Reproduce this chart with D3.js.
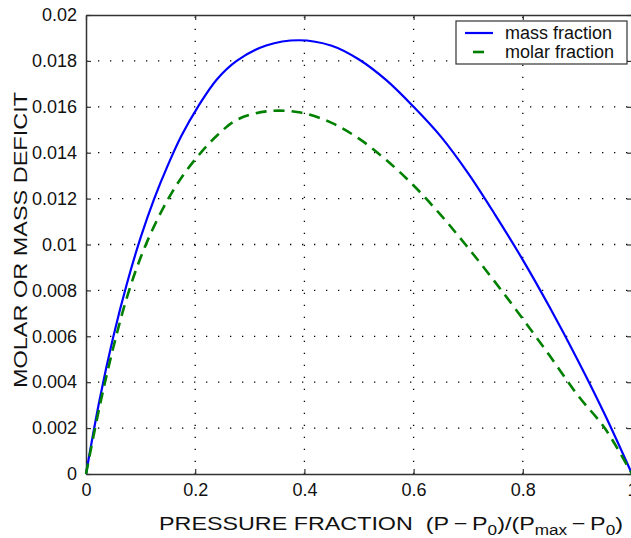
<!DOCTYPE html>
<html lang="en">
<head>
    <meta charset="UTF-8">
    <title>Molar or mass deficit</title>
    <script src="https://d3js.org/d3.v7.min.js"></script>
    <style>
        body {
            margin: 0;
            padding: 0;
            background-color: #ffffff;
        }
        svg text {
            font-family: 'Liberation Sans', Arial, sans-serif;
            fill: #111;
        }
        .grid line {
            stroke: #000;
            stroke-width: 1.3px;
            stroke-dasharray: 1.3, 10.7;
        }
    </style>
</head>
<body>
    <div id="chart"></div>
    <script>
        // values (pressure fraction -> deficit)
        const fractionX = [0, 0.025, 0.05, 0.075, 0.1, 0.125, 0.15, 0.175, 0.205, 0.24, 0.276, 0.33, 0.39, 0.45, 0.5, 0.55, 0.6, 0.65, 0.7, 0.75, 0.8, 0.85, 0.9, 0.95, 1];
        const massY = [0, 0.00325, 0.00598, 0.0083, 0.0103, 0.0120, 0.01346, 0.01475, 0.0160, 0.0172, 0.0180, 0.01867, 0.0189, 0.01866, 0.01806, 0.01716, 0.0160, 0.0147, 0.0131, 0.01127, 0.00933, 0.00723, 0.00499, 0.0026, 0];
        const molarY = [0, 0.00295, 0.00551, 0.0077, 0.00943, 0.01081, 0.01196, 0.01292, 0.01385, 0.01475, 0.01543, 0.0158, 0.01576, 0.0153, 0.01461, 0.01368, 0.01257, 0.01128, 0.00985, 0.00834, 0.00676, 0.00513, 0.00345, 0.0020, 0];
        const xTicks = [0, 0.2, 0.4, 0.6, 0.8, 1];
        const xTickLabels = ["0", "0.2", "0.4", "0.6", "0.8", "1"];
        const yTicks = [0, 0.002, 0.004, 0.006, 0.008, 0.01, 0.012, 0.014, 0.016, 0.018, 0.02];
        const yTickLabels = ["0", "0.002", "0.004", "0.006", "0.008", "0.01", "0.012", "0.014", "0.016", "0.018", "0.02"];
        const seriesNames = ["mass fraction", "molar fraction"];

        const W = 631, H = 538;
        const margin = { top: 15, right: -1, bottom: 64, left: 86 };
        const width = W - margin.left - margin.right;
        const height = H - margin.top - margin.bottom;

        const svg = d3.select("#chart").append("svg")
            .attr("width", W)
            .attr("height", H);
        const g = svg.append("g")
            .attr("transform", `translate(${margin.left},${margin.top})`);

        const x = d3.scaleLinear().domain([0, 1]).range([0, width]);
        const y = d3.scaleLinear().domain([0, 0.02]).range([height, 0]);

        // dotted grid
        g.append("g").attr("class", "grid")
            .selectAll("line").data(yTicks.slice(1, -1)).join("line")
            .attr("x1", 0).attr("x2", width)
            .attr("y1", d => y(d)).attr("y2", d => y(d));
        g.append("g").attr("class", "grid")
            .selectAll("line").data(xTicks.slice(1, -1)).join("line")
            .attr("y1", height).attr("y2", 0)
            .attr("x1", d => x(d)).attr("x2", d => x(d));

        // axes, matlab style ticks pointing inward
        g.append("g")
            .attr("transform", `translate(0,${height})`)
            .call(d3.axisBottom(x).tickValues(xTicks).tickSizeInner(-5).tickSizeOuter(0).tickPadding(9)
                .tickFormat((d, i) => xTickLabels[i]));
        g.append("g")
            .call(d3.axisLeft(y).tickValues(yTicks).tickSizeInner(-5).tickSizeOuter(0).tickPadding(9)
                .tickFormat((d, i) => yTickLabels[i]));
        g.append("g")
            .call(d3.axisTop(x).tickValues(xTicks).tickSizeInner(-5).tickSizeOuter(0).tickFormat(""));
        g.append("g")
            .attr("transform", `translate(${width},0)`)
            .call(d3.axisRight(y).tickValues(yTicks).tickSizeInner(-5).tickSizeOuter(0).tickFormat(""));

        g.selectAll(".domain").attr("stroke", "#333").attr("stroke-width", 1.5);
        g.selectAll(".tick line").attr("stroke", "#333").attr("stroke-width", 1.2);
        g.selectAll(".tick text").style("font-size", "18px").attr("fill", "#111");

        // curves
        const line = d3.line().x(d => x(d[0])).y(d => y(d[1])).curve(d3.curveCatmullRom.alpha(0.5));
        g.append("path")
            .datum(fractionX.map((v, i) => [v, massY[i]]))
            .attr("fill", "none")
            .attr("stroke", "#0000ff")
            .attr("stroke-width", 2.2)
            .attr("d", line);
        g.append("path")
            .datum(fractionX.map((v, i) => [v, molarY[i]]))
            .attr("fill", "none")
            .attr("stroke", "#008000")
            .attr("stroke-width", 2.6)
            .attr("stroke-dasharray", "11,7")
            .attr("d", line);

        // legend
        const lg = svg.append("g").attr("transform", "translate(456,21)");
        lg.append("rect")
            .attr("width", 171).attr("height", 43)
            .attr("fill", "#fff").attr("stroke", "#333").attr("stroke-width", 1.2);
        lg.append("line").attr("x1", 9).attr("x2", 37).attr("y1", 12).attr("y2", 12)
            .attr("stroke", "#0000ff").attr("stroke-width", 2.2);
        lg.append("line").attr("x1", 17).attr("x2", 28).attr("y1", 31).attr("y2", 31)
            .attr("stroke", "#008000").attr("stroke-width", 2.6);
        lg.selectAll("text.leg").data(seriesNames).join("text")
            .attr("class", "leg")
            .attr("x", 49)
            .attr("y", (d, i) => 18 + i * 19)
            .style("font-size", "18px")
            .text(d => d);

        // axis titles
        const xt = svg.append("text")
            .attr("x", 159).attr("y", 530)
            .attr("textLength", 464)
            .attr("lengthAdjust", "spacingAndGlyphs")
            .style("font-size", "19px");
        xt.append("tspan").text("PRESSURE FRACTION\u00a0\u00a0(P\u2009\u2212\u2009P");
        xt.append("tspan").attr("dy", 5).style("font-size", "14px").text("0");
        xt.append("tspan").attr("dy", -5).text(")/(P");
        xt.append("tspan").attr("dy", 5).style("font-size", "14px").text("max");
        xt.append("tspan").attr("dy", -5).text("\u2009\u2212\u2009P");
        xt.append("tspan").attr("dy", 5).style("font-size", "14px").text("0");
        xt.append("tspan").attr("dy", -5).text(")");

        svg.append("text")
            .attr("transform", "translate(27,240) rotate(-90)")
            .attr("text-anchor", "middle")
            .attr("textLength", 296)
            .attr("lengthAdjust", "spacingAndGlyphs")
            .style("font-size", "19px")
            .text("MOLAR OR MASS DEFICIT");
    </script>
</body>
</html>
